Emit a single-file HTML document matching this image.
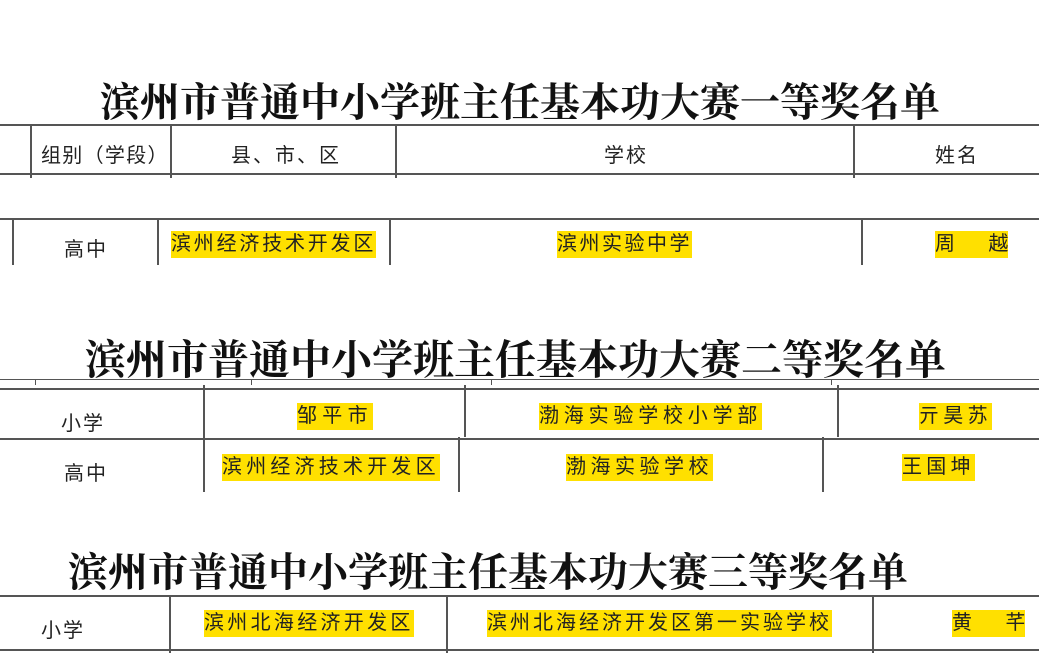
<!DOCTYPE html>
<html><head><meta charset="utf-8"><style>
body{margin:0;width:1039px;height:653px;background:#fff;position:relative;overflow:hidden;font-family:"Liberation Sans","Noto Sans CJK SC",sans-serif;color:#222}
.t{position:absolute;font-family:"Liberation Serif","Noto Serif CJK SC",serif;font-weight:700;color:#111;white-space:nowrap;letter-spacing:0}
.h{position:absolute;height:2px;background:#555}
.v{position:absolute;width:2px;background:#555}
.x{position:absolute;font-size:20px;white-space:nowrap;letter-spacing:2px;line-height:27px}
.y{background:#ffe000}
</style></head><body>
<div class="t" style="left:100px;top:71px;font-size:40px">滨州市普通中小学班主任基本功大赛一等奖名单</div>
<div class="h" style="left:0;top:124px;width:1039px"></div>
<div class="h" style="left:0;top:173px;width:1039px"></div>
<div class="v" style="left:30px;top:124px;height:54px"></div>
<div class="v" style="left:170px;top:124px;height:54px"></div>
<div class="v" style="left:395px;top:124px;height:54px"></div>
<div class="v" style="left:853px;top:124px;height:54px"></div>
<div class="x" style="left:41px;top:143px;letter-spacing:1.3px">组别（学段）</div>
<div class="x" style="left:231px;top:143px">县、市、区</div>
<div class="x" style="left:604px;top:143px">学校</div>
<div class="x" style="left:935px;top:143px">姓名</div>
<div class="h" style="left:0;top:218px;width:1039px"></div>
<div class="v" style="left:12px;top:218px;height:47px"></div>
<div class="v" style="left:157px;top:218px;height:47px"></div>
<div class="v" style="left:389px;top:218px;height:47px"></div>
<div class="v" style="left:861px;top:218px;height:47px"></div>
<div class="x" style="left:64px;top:237px">高中</div>
<div class="x y" style="left:171px;top:231px;letter-spacing:2.8px">滨州经济技术开发区</div>
<div class="x y" style="left:557px;top:231px;letter-spacing:2.5px">滨州实验中学</div>
<div class="x y" style="left:935px;top:231px;letter-spacing:0">周&nbsp;&nbsp;&nbsp;&nbsp;&nbsp;&nbsp;越</div>

<div class="t" style="left:85px;top:327px;font-size:41px">滨州市普通中小学班主任基本功大赛二等奖名单</div>
<div class="h" style="left:0;top:379px;width:1039px;height:1px"></div>
<div class="v" style="left:35px;top:379px;height:6px;width:1px"></div>
<div class="v" style="left:251px;top:379px;height:6px;width:1px"></div>
<div class="v" style="left:491px;top:379px;height:6px;width:1px"></div>
<div class="v" style="left:831px;top:379px;height:6px;width:1px"></div>
<div class="h" style="left:0;top:388px;width:1039px"></div>
<div class="h" style="left:0;top:438px;width:1039px"></div>
<div class="v" style="left:203px;top:385px;height:107px"></div>
<div class="v" style="left:464px;top:385px;height:52px"></div>
<div class="v" style="left:837px;top:385px;height:52px"></div>
<div class="v" style="left:458px;top:437px;height:55px"></div>
<div class="v" style="left:822px;top:437px;height:55px"></div>
<div class="x" style="left:61px;top:411px">小学</div>
<div class="x y" style="left:297px;top:403px;letter-spacing:5.3px">邹平市</div>
<div class="x y" style="left:539px;top:403px;letter-spacing:4.8px">渤海实验学校小学部</div>
<div class="x y" style="left:919px;top:403px;letter-spacing:4.3px">亓昊苏</div>
<div class="x" style="left:64px;top:461px">高中</div>
<div class="x y" style="left:222px;top:454px;letter-spacing:4.2px">滨州经济技术开发区</div>
<div class="x y" style="left:566px;top:454px;letter-spacing:4.5px">渤海实验学校</div>
<div class="x y" style="left:902px;top:454px;letter-spacing:4.3px">王国坤</div>

<div class="t" style="left:68px;top:541px;font-size:40px">滨州市普通中小学班主任基本功大赛三等奖名单</div>
<div class="h" style="left:0;top:595px;width:1039px"></div>
<div class="h" style="left:0;top:649px;width:1039px"></div>
<div class="v" style="left:169px;top:595px;height:58px"></div>
<div class="v" style="left:446px;top:595px;height:58px"></div>
<div class="v" style="left:872px;top:595px;height:58px"></div>
<div class="x" style="left:41px;top:618px">小学</div>
<div class="x y" style="left:204px;top:610px;letter-spacing:3.3px">滨州北海经济开发区</div>
<div class="x y" style="left:487px;top:610px;letter-spacing:3px">滨州北海经济开发区第一实验学校</div>
<div class="x y" style="left:952px;top:610px;letter-spacing:0">黄&nbsp;&nbsp;&nbsp;&nbsp;&nbsp;&nbsp;芊</div>
</body></html>
